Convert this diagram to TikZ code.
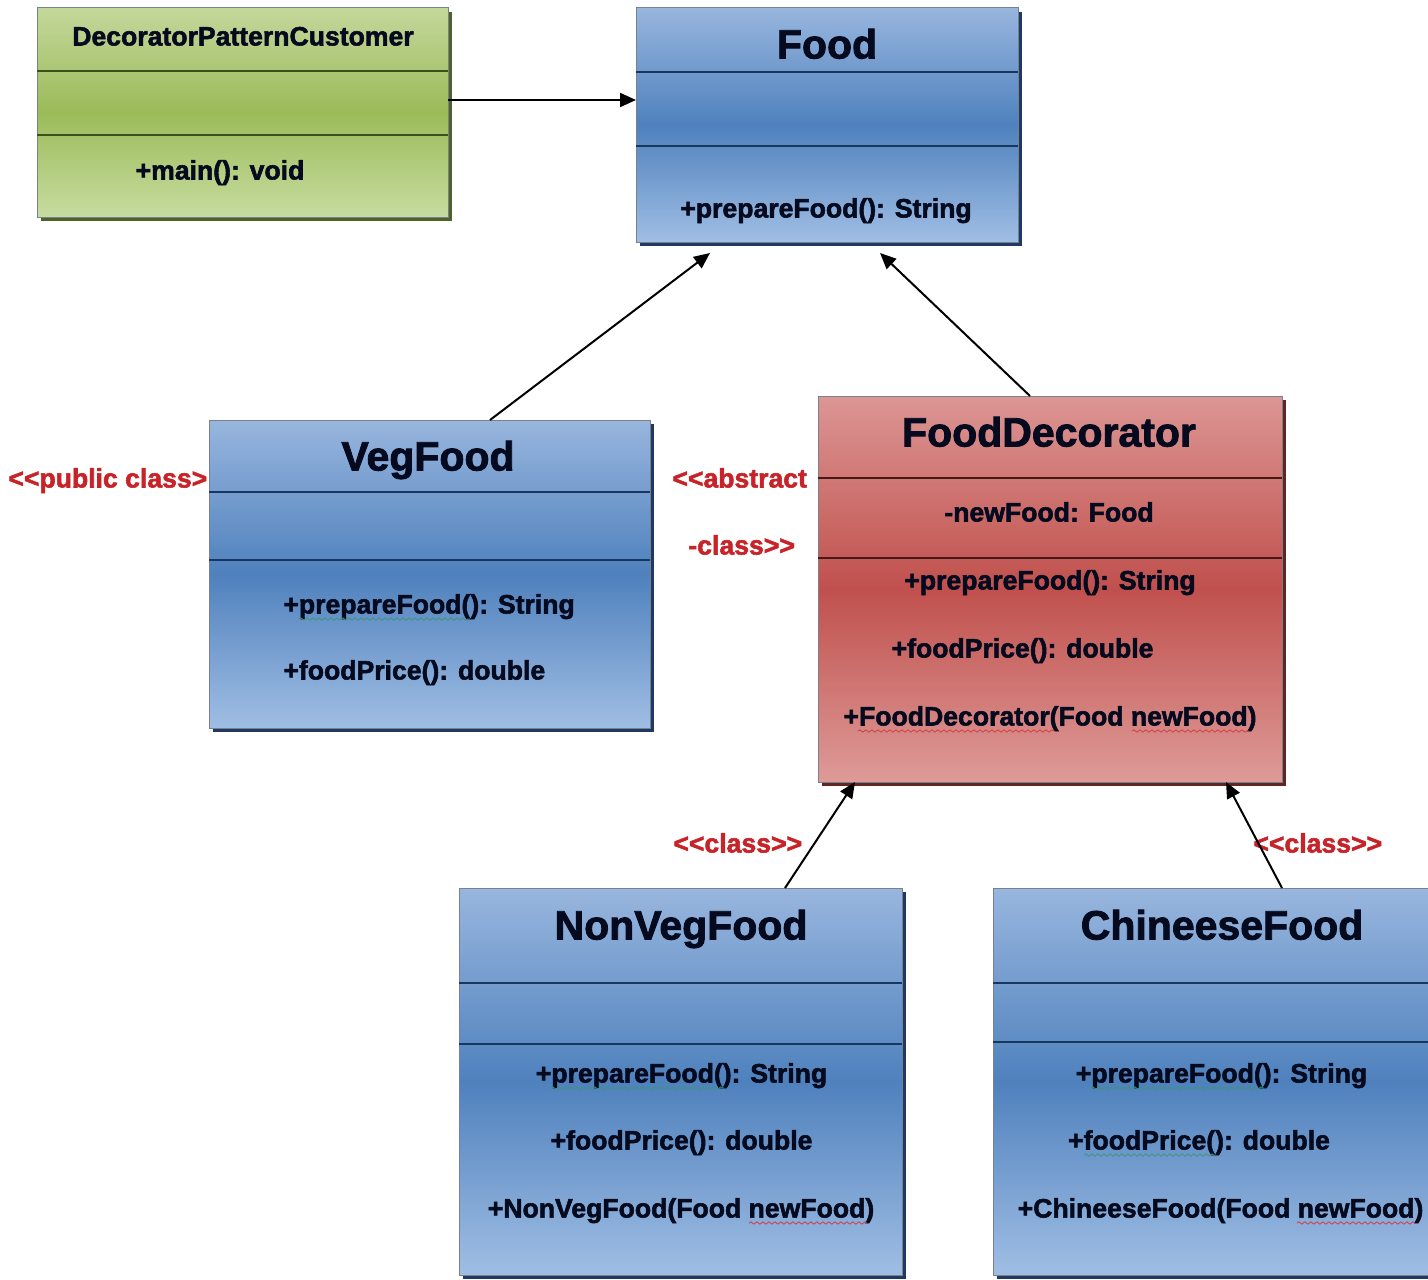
\documentclass[tikz,border=0pt]{standalone}
\usepackage{fontspec}
\setmainfont{Liberation Sans}[BoldFeatures={FakeBold=2}]
\usetikzlibrary{arrows.meta,shadows,decorations.pathmorphing}
\definecolor{bluelt}{RGB}{152,182,222}
\definecolor{bluedk}{RGB}{79,129,189}
\definecolor{bluelt2}{RGB}{160,190,228}
\definecolor{greenlt}{RGB}{196,215,155}
\definecolor{greendk}{RGB}{155,187,89}
\definecolor{greenlt2}{RGB}{200,220,160}
\definecolor{redlt}{RGB}{220,150,148}
\definecolor{reddk}{RGB}{192,80,77}
\definecolor{redlt2}{RGB}{222,155,152}
\definecolor{blueshd}{RGB}{31,56,100}
\definecolor{greenshd}{RGB}{79,98,40}
\definecolor{redshd}{RGB}{99,37,35}
\definecolor{bluediv}{RGB}{23,55,94}
\definecolor{greendiv}{RGB}{60,80,30}
\definecolor{reddiv}{RGB}{70,25,25}
\definecolor{boxedge}{RGB}{120,130,140}
\definecolor{txt}{RGB}{5,10,30}
\definecolor{labred}{RGB}{200,35,40}
\definecolor{sqgreen}{RGB}{60,150,120}
\definecolor{sqred}{RGB}{210,60,70}
\begin{document}
\begin{tikzpicture}[x=0.5pt,y=-0.5pt,
  umlbase/.style={rectangle,inner sep=0pt,outer sep=0pt,draw=boxedge,line width=0.5pt},
  bluebox/.style={umlbase,top color=bluelt,bottom color=bluelt2,middle color=bluedk,
    general shadow={fill=blueshd,shadow xshift=2pt,shadow yshift=-2.2pt}},
  greenbox/.style={umlbase,top color=greenlt,bottom color=greenlt2,middle color=greendk,
    general shadow={fill=greenshd,shadow xshift=2pt,shadow yshift=-2.2pt}},
  redbox/.style={umlbase,top color=redlt,bottom color=redlt2,middle color=reddk,
    general shadow={fill=redshd,shadow xshift=2pt,shadow yshift=-2.2pt}},
  bdiv/.style={draw=bluediv,line width=1pt},
  gdiv/.style={draw=greendiv,line width=1pt},
  rdiv/.style={draw=reddiv,line width=1pt},
  title/.style={font=\fontsize{20.5}{24}\selectfont\bfseries,text=txt,inner sep=0pt,anchor=base},
  item/.style={font=\fontsize{13.3}{16}\selectfont\bfseries,text=txt,inner sep=0pt,anchor=base},
  lab/.style={font=\fontsize{13.3}{16}\selectfont\bfseries,text=labred,inner sep=0pt,anchor=base west},
  arr/.style={draw=black,line width=1pt,-{Triangle[length=8pt,width=7pt]}},
  squig/.style={line width=0.4pt,decorate,decoration={snake,amplitude=0.6pt,segment length=3pt}}
]
\useasboundingbox (0,0) rectangle (1428,1279);
\fill[white] (0,0) rectangle (1428,1279);
\begin{scope}
\clip (0,0) rectangle (1428,1279);

% boxes
\node[greenbox,minimum width=205.5pt,minimum height=104.5pt] (cust) at (242.5,112.5) {};
\node[bluebox,minimum width=191pt,minimum height=117pt] (food) at (827,125) {};
\node[bluebox,minimum width=220.5pt,minimum height=154pt] (veg) at (429.5,574) {};
\node[redbox,minimum width=232pt,minimum height=193pt] (dec) at (1050,589) {};
\node[bluebox,minimum width=221.5pt,minimum height=193.5pt] (nonveg) at (680.5,1081.5) {};
\node[bluebox,minimum width=221.5pt,minimum height=193.5pt] (chin) at (1214.5,1081.5) {};

% dividers
\draw[gdiv] (cust.west |- 0,71) -- (cust.east |- 0,71);
\draw[gdiv] (cust.west |- 0,135) -- (cust.east |- 0,135);
\draw[bdiv] (food.west |- 0,72) -- (food.east |- 0,72);
\draw[bdiv] (food.west |- 0,146) -- (food.east |- 0,146);
\draw[bdiv] (veg.west |- 0,492) -- (veg.east |- 0,492);
\draw[bdiv] (veg.west |- 0,560) -- (veg.east |- 0,560);
\draw[rdiv] (dec.west |- 0,478) -- (dec.east |- 0,478);
\draw[rdiv] (dec.west |- 0,558) -- (dec.east |- 0,558);
\draw[bdiv] (nonveg.west |- 0,983) -- (nonveg.east |- 0,983);
\draw[bdiv] (nonveg.west |- 0,1044) -- (nonveg.east |- 0,1044);
\draw[bdiv] (chin.west |- 0,983) -- (chin.east |- 0,983);
\draw[bdiv] (chin.west |- 0,1042) -- (chin.east |- 0,1042);

% texts
\node[item] (custT) at (243,45.5) {DecoratorPatternCustomer};
\node[item] (custM) at (220,179.5) {+main(): void};

\node[title] (foodT) at (827,58.5) {Food};
\node[item] (foodM) at (826,217.5) {+prepareFood(): String};

\node[title] (vegT) at (428,470.5) {VegFood};
\node[item,anchor=base west] (vegM1) at (283,613.5) {+prepareFood(): String};
\node[item,anchor=base west] (vegM2) at (283,679.5) {+foodPrice(): double};

\node[title] (decT) at (1049,446.5) {FoodDecorator};
\node[item] (decA) at (1049,521.5) {-newFood: Food};
\node[item] (decM1) at (1050,589.5) {+prepareFood(): String};
\node[item] (decM2) at (1022.5,657.5) {+foodPrice(): double};
\node[item] (decM3) at (1050,725.5) {+FoodDecorator(Food newFood)};

\node[title] (nonvegT) at (681,939.5) {NonVegFood};
\node[item] (nonvegM1) at (681.5,1082.5) {+prepareFood(): String};
\node[item] (nonvegM2) at (681.5,1149.5) {+foodPrice(): double};
\node[item] (nonvegM3) at (681,1217.5) {+NonVegFood(Food newFood)};

\node[title] (chinT) at (1222,939.5) {ChineeseFood};
\node[item] (chinM1) at (1221.5,1082.5) {+prepareFood(): String};
\node[item] (chinM2) at (1199,1149.5) {+foodPrice(): double};
\node[item] (chinM3) at (1220.5,1217.5) {+ChineeseFood(Food newFood)};

% red stereotype labels
\node[lab] (labVeg) at (8,487.5) {<\kern0pt<public class>};
\node[lab] (labDec1) at (672,487.5) {<\kern0pt<abstract};
\node[lab] (labDec2) at (688,554.5) {-class>\kern0pt>};
\node[lab] (labNon) at (673,852.5) {<\kern0pt<class>\kern0pt>};
\node[lab] (labChin) at (1253,852.5) {<\kern0pt<class>\kern0pt>};

% spell-check squiggles
\draw[squig,sqgreen] (299,619) -- (470,619);
\draw[squig,sqred] (858,731) -- (1055,731);
\draw[squig,sqred] (1132,731) -- (1249,731);
\draw[squig,sqgreen] (551,1088) -- (724,1088);
\draw[squig,sqred] (749,1223) -- (867,1223);
\draw[squig,sqgreen] (1091,1088) -- (1264,1088);
\draw[squig,sqgreen] (1084,1155) -- (1216,1155);
\draw[squig,sqred] (1297,1223) -- (1415,1223);

% connectors
\coordinate (foodL) at (710,253);
\coordinate (foodR) at (880,253);
\draw[arr] (cust.east |- 0,100) -- (food.west |- 0,100);
\draw[arr] (veg.north -| 490,0) -- (foodL);
\draw[arr] (dec.north -| 1030,0) -- (foodR);
\draw[arr] (nonveg.north -| 785,0) -- (dec.south -| 855,0);
\draw[arr] (chin.north -| 1282,0) -- (dec.south -| 1226,0);
\end{scope}
\end{tikzpicture}
\end{document}
